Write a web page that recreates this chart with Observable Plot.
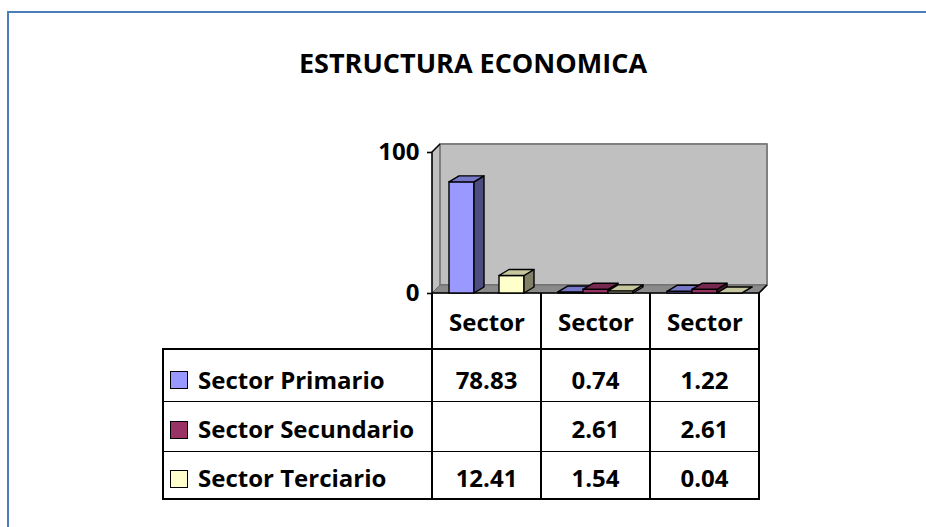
<!DOCTYPE html>
<html>
<head>
<meta charset="utf-8">
<script src="https://cdn.jsdelivr.net/npm/d3@7"></script>
<script src="https://cdn.jsdelivr.net/npm/@observablehq/plot@0.6"></script>
<style>
  html, body { margin: 0; padding: 0; background: #ffffff; }
  #wrap { position: relative; width: 926px; height: 527px; overflow: hidden; font-family: "Open Sans", sans-serif; font-weight: 700; color: #000; }
  #border { position: absolute; left: 7px; top: 11px; width: 1200px; height: 1200px; border-left: 2px solid #4a7ebb; border-top: 2px solid #4a7ebb; }
  #title { position: absolute; left: 10px; width: 926px; top: 42px; height: 41px; line-height: 41px; text-align: center; font-size: 27px; white-space: nowrap; }
  #chart { position: absolute; left: 0; top: 0; }
  .cell { position: absolute; font-size: 24px; white-space: nowrap; height: 40px; line-height: 40px; }
  .line { position: absolute; background: #000; }
  .key { position: absolute; width: 18px; height: 18px; border: 1.5px solid #000; box-sizing: border-box; }
</style>
</head>
<body>
<div id="wrap">
  <div id="border"></div>
  <div id="title"></div>
  <div id="chart"></div>
</div>
<script>
// ---- data ----
const title = "ESTRUCTURA ECONOMICA";
const categories = ["Sector", "Sector", "Sector"];
const seriesNames = ["Sector Primario", "Sector Secundario", "Sector Terciario"];
const primario = [78.83, 0.74, 1.22];
const secundario = [null, 2.61, 2.61];
const terciario = [12.41, 1.54, 0.04];
const yTicks = [0, 100];
const seriesColors = ["#9999ff", "#993366", "#ffffcc"];

const seriesValues = [primario, secundario, terciario];
const rows = seriesNames.map((name, s) =>
  categories.map((c, i) => ({cat: i, series: name, value: seriesValues[s][i]})));

document.getElementById("title").textContent = title;

// ---- 3D helpers ----
const DX = 10, DY = -6;      // bar depth
const WX = 8, WY = -8;       // wall depth
function shade(c, k) {
  const r = d3.rgb(c);
  return d3.rgb(r.r * k, r.g * k, r.b * k).formatHex();
}
function poly(parent, pts, fill, stroke, sw) {
  const p = document.createElementNS("http://www.w3.org/2000/svg", "polygon");
  p.setAttribute("points", pts.map(d => d.join(",")).join(" "));
  p.setAttribute("fill", fill);
  p.setAttribute("stroke", stroke);
  p.setAttribute("stroke-width", sw);
  p.setAttribute("stroke-linejoin", "round");
  parent.appendChild(p);
  return p;
}
function pline(parent, pts, stroke, sw) {
  const p = document.createElementNS("http://www.w3.org/2000/svg", "polyline");
  p.setAttribute("points", pts.map(d => d.join(",")).join(" "));
  p.setAttribute("fill", "none");
  p.setAttribute("stroke", stroke);
  p.setAttribute("stroke-width", sw);
  parent.appendChild(p);
}
function bar3d(color) {
  const top = shade(color, 0.78), side = shade(color, 0.5);
  return (index, scales, values, dimensions, context, next) => {
    const g = next(index, scales, values, dimensions, context);
    for (const r of Array.from(g.querySelectorAll("rect"))) {
      const x = +r.getAttribute("x"), y = +r.getAttribute("y");
      const w = +r.getAttribute("width"), h = +r.getAttribute("height");
      const parent = r.parentNode;
      poly(parent, [[x + w, y], [x + w + DX, y + DY], [x + w + DX, y + h + DY], [x + w, y + h]], side, "#000", 1.4);
      poly(parent, [[x, y], [x + DX, y + DY], [x + w + DX, y + DY], [x + w, y]], top, "#000", 1.4);
    }
    return g;
  };
}

// walls and floor drawn from the plot's scales
function walls(index, scales, values, dimensions) {
  const g = document.createElementNS("http://www.w3.org/2000/svg", "g");
  const x0 = dimensions.marginLeft, x1 = dimensions.width - dimensions.marginRight;
  const yb = scales.y(0), yt = scales.y(100);
  // back wall
  poly(g, [[x0 + WX, yt + WY], [x1 + WX, yt + WY], [x1 + WX, yb + WY], [x0 + WX, yb + WY]], "#c0c0c0", "#808080", 2);
  // side wall
  poly(g, [[x0, yt], [x0 + WX, yt + WY], [x0 + WX, yb + WY], [x0, yb]], "#c0c0c0", "none", 0);
  pline(g, [[x0 + WX, yt + WY], [x0 + WX, yb + WY]], "#808080", 2);
  // floor
  poly(g, [[x0, yb], [x0 + WX, yb + WY], [x1 + WX, yb + WY], [x1, yb]], "#8a8a8a", "#6a6a6a", 1);
  // black edges: axis, top slant, front floor edge, right slant
  pline(g, [[x0 + WX, yt + WY], [x0, yt], [x0, yb], [x1, yb], [x1 + WX, yb + WY]], "#000", 1.6);
  return g;
}

const layout = {bandStartPad: 17, barW: 25};
const barMarks = rows.map((data, s) => Plot.barY(data.filter(d => d.value != null), {
  x: "cat",
  y: "value",
  fill: seriesColors[s],
  stroke: "#000",
  strokeWidth: 1.4,
  insetLeft: layout.bandStartPad + layout.barW * s,
  insetRight: 109 - (layout.bandStartPad + layout.barW * (s + 1)),
  render: bar3d(seriesColors[s])
}));

const plot = Plot.plot({
  width: 926,
  height: 527,
  marginLeft: 432,
  marginRight: 167,
  marginTop: 152,
  marginBottom: 234,
  style: {fontFamily: "'Open Sans', sans-serif", fontSize: "24px", fontWeight: "bold", color: "#000", background: "transparent", overflow: "visible"},
  x: {type: "band", domain: categories.map((c, i) => i), padding: 0, axis: null},
  y: {domain: [0, 100], axis: null},
  marks: [
    walls,
    Plot.axisY({ticks: yTicks, tickSize: 5, tickPadding: 8, tickFormat: d => String(d), label: null, strokeWidth: 1.6}),
    Plot.axisX({tickSize: 0, tickPadding: 20, tickFormat: i => categories[i], label: null}),
    ...barMarks
  ]
});
document.getElementById("chart").appendChild(plot);

// ---- data table (columns aligned on the plot's x scale) ----
const xs = plot.scale("x");
const bw = xs.bandwidth;
const colLeft = categories.map((c, i) => xs.apply(i));
const tableLeft = 163, tableRight = colLeft[2] + bw;
const headerTop = 293;
const rowLines = [349, 401.5, 451.5, 499];
const textCenters = [381, 430, 478.5];
const keyCenters = [379.5, 430, 478.5];
const wrap = d3.select("#wrap");
function hline(xa, xb, y) { wrap.append("div").attr("class", "line").style("left", xa + "px").style("top", (y - 0.75) + "px").style("width", (xb - xa + 1.5) + "px").style("height", "1.5px"); }
function vline(x, ya, yb) { wrap.append("div").attr("class", "line").style("left", (x - 0.75) + "px").style("top", ya + "px").style("width", "1.5px").style("height", (yb - ya + 0.75) + "px"); }
rowLines.forEach(y => hline(tableLeft - 0.75, tableRight - 0.75, y));
vline(tableLeft, rowLines[0], rowLines[3]);
colLeft.forEach(x => vline(x, headerTop, rowLines[3]));
vline(tableRight, headerTop, rowLines[3]);

const fmt = d3.format(".2f");
seriesNames.forEach((name, s) => {
  const cy = textCenters[s] - 0.7;
  wrap.append("div").attr("class", "key")
    .style("left", "169.5px").style("top", (keyCenters[s] - 9) + "px")
    .style("background", seriesColors[s]);
  wrap.append("div").attr("class", "cell")
    .style("left", "198px").style("top", (cy - 20) + "px")
    .text(name);
  categories.forEach((c, i) => {
    const v = seriesValues[s][i];
    wrap.append("div").attr("class", "cell")
      .style("left", colLeft[i] + "px").style("width", bw + "px").style("text-align", "center")
      .style("top", (cy - 20) + "px")
      .text(v == null ? "" : fmt(v));
  });
});
</script>
</body>
</html>
